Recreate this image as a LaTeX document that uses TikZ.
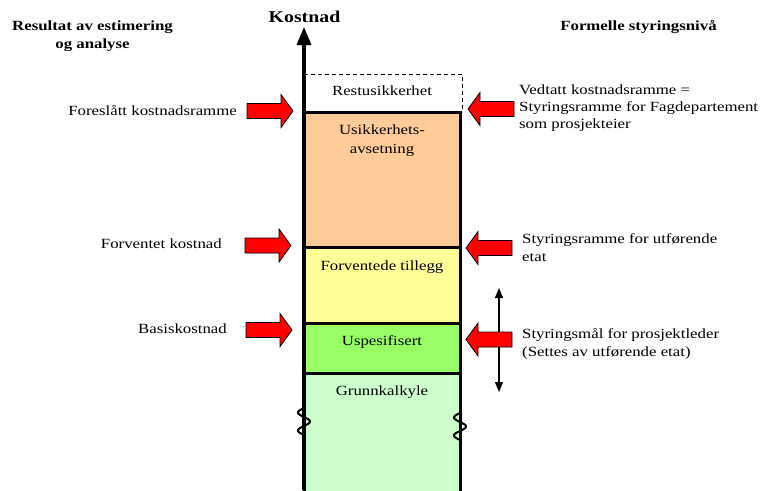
\documentclass[tikz,border=0pt]{standalone}
\usepackage{fontspec}
\setmainfont{Liberation Serif}[FakeStretch=1.2]
\usetikzlibrary{arrows.meta}
\definecolor{cOrange}{HTML}{FFCC99}
\definecolor{cYellow}{HTML}{FFFF99}
\definecolor{cGreen}{HTML}{99FF66}
\definecolor{cLight}{HTML}{CCFFCC}
\definecolor{cRed}{HTML}{FF0000}
\tikzset{
  txt/.style={inner sep=0pt, font=\fontsize{14}{16.8}\selectfont},
  ttl/.style={inner sep=0pt, font=\fontsize{14}{16.8}\selectfont\bfseries, align=center},
  band/.style={draw=black, line width=3pt, anchor=north west, minimum width=156pt, inner sep=0pt, outer sep=0pt},
  blockarrow/.pic={\draw[fill=cRed, draw=black, line width=0.8pt] (0,0) -- (-12,-16.5) -- (-12,-7.5) -- (-46,-7.5) -- (-46,7.5) -- (-12,7.5) -- (-12,16.5) -- cycle;},
  breakmark/.pic={\draw[line width=2pt, line cap=round] plot[variable=\t, domain=0:27, samples=50, smooth] ({-6*sin(\t/18*360)}, \t);}
}
\begin{document}
\begin{tikzpicture}[x=1pt, y=-1pt]
\useasboundingbox (0,0) rectangle (762,490);
\clip (0,0) rectangle (762,490);
% bands
\node[band, fill=cOrange, minimum height=135pt] (bunc) at (304,112) {};
\node[band, fill=cYellow, minimum height=76pt] (bexp) at (304,247) {};
\node[band, fill=cGreen, minimum height=50pt] (bunsp) at (304,323) {};
\node[band, fill=cLight, minimum height=130pt] (bbase) at (304,373) {};
% dashed residual box
\draw[line width=1pt, dash pattern=on 4pt off 3pt] (304,74) -- (462,74) -- (462,112);
% axis
\coordinate (axbot) at (304,490);
\coordinate (axtop) at (304,27);
\draw[line width=3.5pt, -{Triangle[width=14pt,length=18pt]}] (axbot) -- (axtop);
\node[inner sep=0pt, font=\fontsize{16.5}{20}\selectfont\bfseries, anchor=base] (tkost) at (304.5,22.7) {Kostnad};
% break marks
\pic at (304,408) {breakmark};
\pic at (460,413) {breakmark};
% double arrow
\coordinate (dtop) at (499,288);
\coordinate (dbot) at (499,392);
\draw[line width=1.2pt, {Triangle[width=8pt,length=10pt]}-{Triangle[width=8pt,length=10pt]}] (dtop) -- (dbot);
% red arrows
\pic at (293,111) {blockarrow};
\pic at (291,245.5) {blockarrow};
\pic at (292,330) {blockarrow};
\path (468,109) pic[xscale=-1] {blockarrow};
\path (466,248) pic[xscale=-1] {blockarrow};
\path (466,339.5) pic[xscale=-1] {blockarrow};
% titles (base anchor = baseline of last line)
\node[ttl, anchor=base] (tres) at (92.5,48) {Resultat av estimering\\[1.2pt]og analyse};
\node[ttl, anchor=base] (tform) at (638.5,30) {Formelle styringsnivå};
% band texts
\node[txt, anchor=base] (trest) at (382,95) {Restusikkerhet};
\node[txt, anchor=base, align=center] (tusik) at (382,153) {Usikkerhets-\\[2pt]avsetning};
\node[txt, anchor=base] (tforv) at (382,270) {Forventede tillegg};
\node[txt, anchor=base] (tusp) at (382,345) {Uspesifisert};
\node[txt, anchor=base] (tgrk) at (382,395) {Grunnkalkyle};
% left labels
\node[txt, anchor=base east] (lfor) at (237,115) {Foreslått kostnadsramme};
\node[txt, anchor=base east] (lforv) at (222,248) {Forventet kostnad};
\node[txt, anchor=base east] (lbas) at (227,333) {Basiskostnad};
% right labels
\node[txt, anchor=base west, align=left] (rved) at (519,128.5) {Vedtatt kostnadsramme =\\Styringsramme for Fagdepartement\\som prosjekteier};
\node[txt, anchor=base west, align=left] (rsty) at (522,261) {Styringsramme for utførende\\[1.2pt]etat};
\node[txt, anchor=base west, align=left] (rmal) at (522,356) {Styringsmål for prosjektleder\\[1.2pt](Settes av utførende etat)};
\end{tikzpicture}
\end{document}
